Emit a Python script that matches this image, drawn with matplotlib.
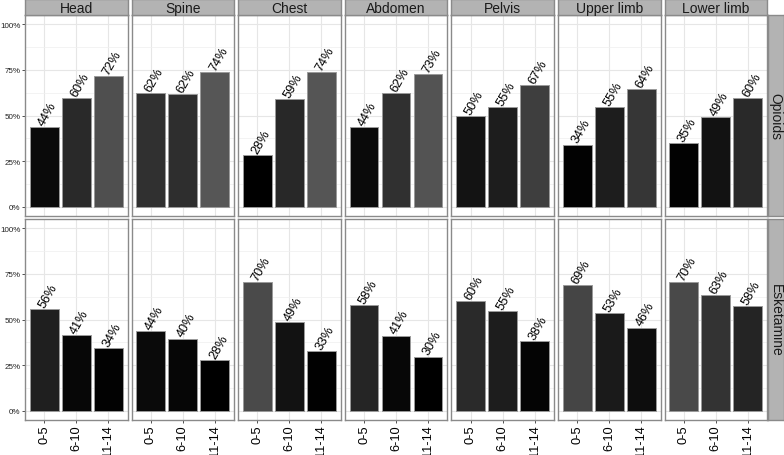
import numpy as np
import matplotlib
matplotlib.use("Agg")
import matplotlib.pyplot as plt
from matplotlib.ticker import MultipleLocator, FuncFormatter

plt.rcParams['font.family'] = ['Liberation Sans', 'DejaVu Sans']

regions = ["Head", "Spine", "Chest", "Abdomen", "Pelvis", "Upper limb", "Lower limb"]
age_groups = ["0-5", "6-10", "11-14"]
drugs = ["Opioids", "Esketamine"]

# share of patients (%) per region and age group
opioids = [
    [43.8, 59.6, 71.8],
    [62.1, 61.6, 73.9],
    [28.2, 59.2, 73.6],
    [43.6, 62.1, 72.9],
    [49.6, 54.6, 66.8],
    [34.1, 54.8, 64.3],
    [34.8, 49.2, 59.7],
]
esketamine = [
    [55.7, 41.4, 34.4],
    [43.6, 39.6, 28.0],
    [70.4, 48.7, 32.8],
    [57.9, 41.2, 29.7],
    [60.1, 54.6, 38.3],
    [68.9, 53.4, 45.6],
    [70.3, 63.2, 57.6],
]
values = {"Opioids": opioids, "Esketamine": esketamine}

W, H = 784, 456
fig = plt.figure(figsize=(W / 100, H / 100), dpi=100)


def px_axes(x0, y0, w, h):
    return fig.add_axes([x0 / W, 1 - (y0 + h) / H, w / W, h / H])


def bar_color(v):
    t = np.clip((v - 28) / 46, 0, 1)
    g = 0.34 * t ** 2
    return (g, g, g)


border = "#8a8a8a"
strip_fill = "#b3b3b3"
left0, pw, step = 25, 102.5, 106.6
tops = [16, 220]
ph = 201

for r, drug in enumerate(drugs):
    for c, region in enumerate(regions):
        ax = px_axes(left0 + c * step, tops[r], pw, ph)
        vals = values[drug][c]
        x = np.arange(1, 4)
        ax.bar(x, [v / 100 for v in vals], width=0.9,
               color=[bar_color(v) for v in vals],
               edgecolor="#9a9a9a", linewidth=0.7, zorder=3)
        for xi, v in zip(x, vals):
            ax.text(xi, v / 100 + 0.006, f"{round(v)}%", rotation=60,
                    rotation_mode="anchor", ha="left", va="baseline",
                    fontsize=9.2, color="black", zorder=4)
        ax.set_xlim(0.4, 3.6)
        ax.set_ylim(-0.05, 1.05)
        ax.yaxis.set_major_locator(MultipleLocator(0.25))
        ax.yaxis.set_minor_locator(MultipleLocator(0.125))
        ax.set_xticks(x)
        ax.grid(True, which="major", color="#e6e6e6", linewidth=0.8, zorder=0)
        ax.grid(True, which="minor", axis="y", color="#efefef", linewidth=0.5, zorder=0)
        ax.tick_params(which="minor", length=0)
        ax.tick_params(which="major", length=2.5, width=0.6, color="#333333",
                       pad=1)
        for s in ax.spines.values():
            s.set_color(border)
            s.set_linewidth(1.0)
        if c == 0:
            ax.yaxis.set_major_formatter(
                FuncFormatter(lambda v, p: f"{int(round(v * 100))}%"))
            ax.tick_params(axis="y", labelsize=5.8, labelcolor="#222222",
                           pad=0.6)
        else:
            ax.tick_params(axis="y", labelleft=False, length=0)
        if r == 1:
            ax.set_xticklabels(age_groups, rotation=90, fontsize=9.2,
                               color="black")
            ax.tick_params(axis="x", pad=0.5)
        else:
            ax.tick_params(axis="x", labelbottom=False, length=0)

        if r == 0:
            st = px_axes(left0 + c * step, 0, pw, 15.5)
            st.set_facecolor(strip_fill)
            st.set_xticks([])
            st.set_yticks([])
            for s in st.spines.values():
                s.set_color(border)
                s.set_linewidth(1.0)
            st.text(0.5, 0.45, region, ha="center", va="center",
                    fontsize=10, color="#1a1a1a", transform=st.transAxes)

    rs = px_axes(767.5, tops[r], 16.5, ph)
    rs.set_facecolor(strip_fill)
    rs.set_xticks([])
    rs.set_yticks([])
    for s in rs.spines.values():
        s.set_color(border)
        s.set_linewidth(1.0)
    rs.text(0.5, 0.5, drug, ha="center", va="center", rotation=-90,
            fontsize=10, color="#1a1a1a", transform=rs.transAxes)

fig.savefig("out.png", dpi=100, facecolor="white")
